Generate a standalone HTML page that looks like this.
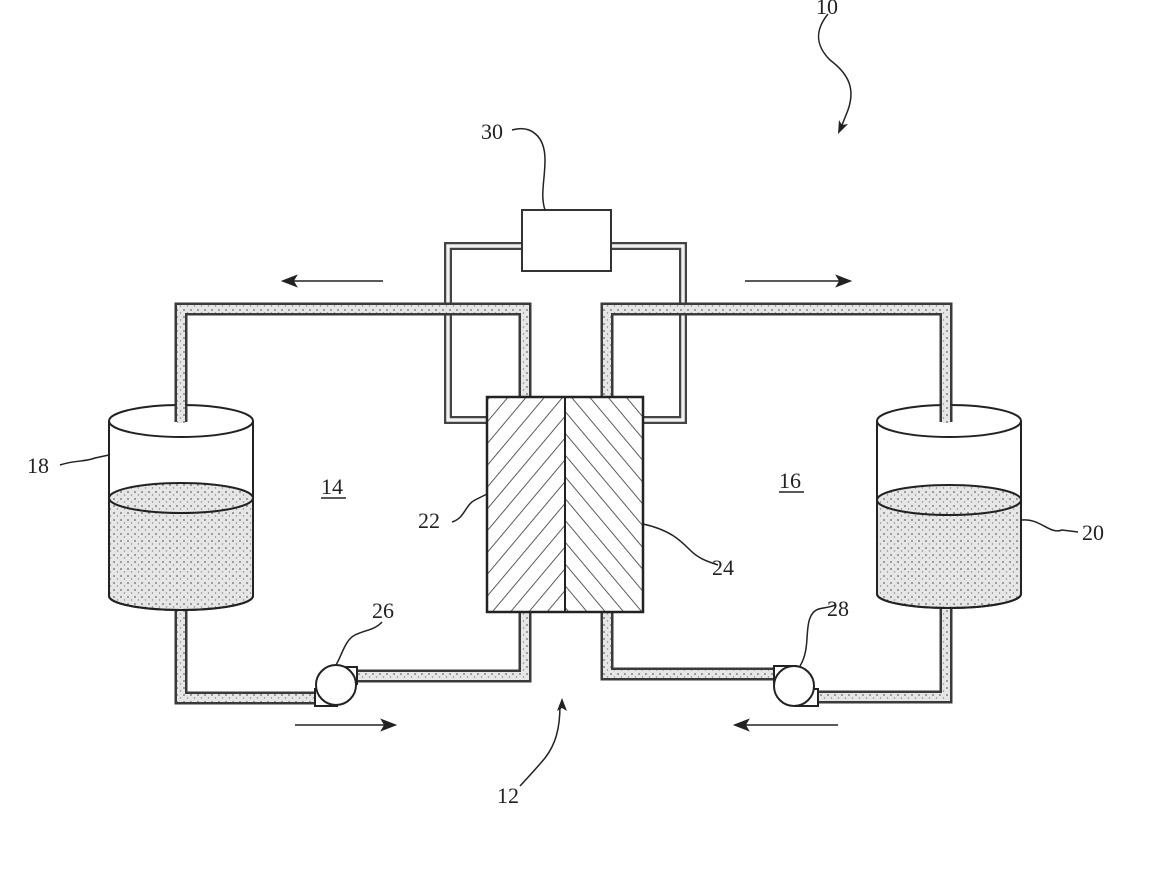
<!DOCTYPE html>
<html><head><style>
html,body{margin:0;padding:0;background:#fff;width:1154px;height:882px;overflow:hidden}
svg text{font-family:"Liberation Serif",serif;font-size:22px;fill:#222}
</style></head><body>
<svg width="1154" height="882" viewBox="0 0 1154 882" xmlns="http://www.w3.org/2000/svg">
<defs>
<pattern id="dots" width="7" height="7" patternUnits="userSpaceOnUse">
<rect width="7" height="7" fill="#e6e6e6"/>
<circle cx="2" cy="2" r="0.9" fill="#666"/><circle cx="5.5" cy="5" r="0.7" fill="#888"/>
</pattern>
<pattern id="hl" width="14" height="14" patternUnits="userSpaceOnUse" patternTransform="rotate(40)">
<rect width="14" height="14" fill="#fff"/><line x1="0" y1="0" x2="0" y2="14" stroke="#333" stroke-width="1.6"/>
</pattern>
<pattern id="hr" width="14" height="14" patternUnits="userSpaceOnUse" patternTransform="rotate(-40)">
<rect width="14" height="14" fill="#fff"/><line x1="0" y1="0" x2="0" y2="14" stroke="#333" stroke-width="1.6"/>
</pattern>
</defs>

<g fill="none" stroke-linejoin="miter" stroke-linecap="butt">
<!-- control loops -->
<g stroke="#444" stroke-width="8">
<polyline points="522,246 448,246 448,420 487,420"/>
<polyline points="611,246 683,246 683,420 643,420"/>
</g>
<g stroke="#f2f2f2" stroke-width="3.5">
<polyline points="522,246 448,246 448,420 487,420"/>
<polyline points="611,246 683,246 683,420 643,420"/>
</g>
<!-- main pipes -->
<g stroke="#3a3a3a" stroke-width="13">
<polyline points="181,422 181,309 525,309 525,397"/>
<polyline points="946,422 946,309 607,309 607,397"/>
<polyline points="525,612 525,676 356,676"/>
<polyline points="607,612 607,674 776,674"/>
<polyline points="181,608 181,698 316,698"/>
<polyline points="946,606 946,697 816,697"/>
</g>
<g stroke="url(#dots)" stroke-width="8">
<polyline points="181,422 181,309 525,309 525,397"/>
<polyline points="946,422 946,309 607,309 607,397"/>
<polyline points="525,612 525,676 356,676"/>
<polyline points="607,612 607,674 776,674"/>
<polyline points="181,608 181,698 316,698"/>
<polyline points="946,606 946,697 816,697"/>
</g>
</g>

<!-- box 30 -->
<rect x="522" y="210" width="89" height="61" fill="#fff" stroke="#333" stroke-width="2"/>

<!-- cell -->
<rect x="487" y="397" width="78" height="215" fill="url(#hl)"/>
<rect x="565" y="397" width="78" height="215" fill="url(#hr)"/>
<rect x="487" y="397" width="156" height="215" fill="none" stroke="#222" stroke-width="2.5"/>
<line x1="565" y1="397" x2="565" y2="612" stroke="#222" stroke-width="2"/>

<!-- tank 18 -->
<g stroke="#222" stroke-width="2">
<path d="M109,498 A72,15 0 0 1 253,498 L253,596 A72,14 0 0 1 109,596 Z" fill="url(#dots)"/>
<path d="M109,421 L109,596 A72,14 0 0 0 253,596 L253,421" fill="none"/>
<ellipse cx="181" cy="421" rx="72" ry="16" fill="none"/>
<path d="M109,498 A72,15 0 0 0 253,498" fill="none"/>
</g>
<!-- tank 20 -->
<g stroke="#222" stroke-width="2">
<path d="M877,500 A72,15 0 0 1 1021,500 L1021,594 A72,14 0 0 1 877,594 Z" fill="url(#dots)"/>
<path d="M877,421 L877,594 A72,14 0 0 0 1021,594 L1021,421" fill="none"/>
<ellipse cx="949" cy="421" rx="72" ry="16" fill="none"/>
<path d="M877,500 A72,15 0 0 0 1021,500" fill="none"/>
</g>
<!-- redraw pipe stubs into tanks -->
<g stroke="#3a3a3a" stroke-width="13"><line x1="181" y1="405" x2="181" y2="422"/><line x1="946" y1="405" x2="946" y2="422"/></g>
<g stroke="url(#dots)" stroke-width="8"><line x1="181" y1="404" x2="181" y2="423"/><line x1="946" y1="404" x2="946" y2="423"/></g>

<!-- pumps -->
<g stroke="#222" stroke-width="2" fill="#fff">
<rect x="315" y="689" width="22" height="17"/>
<rect x="335" y="667" width="22" height="17"/>
<circle cx="336" cy="685" r="20"/>
<rect x="796" y="689" width="22" height="17"/>
<rect x="774" y="666" width="22" height="17"/>
<circle cx="794" cy="686" r="20"/>
</g>

<!-- flow arrows -->
<g stroke="#222" stroke-width="1.6" fill="#222">
<line x1="383" y1="281" x2="290" y2="281"/><path d="M283,281 L296,276 L293,281 L296,286Z"/>
<line x1="745" y1="281" x2="843" y2="281"/><path d="M850,281 L837,276 L840,281 L837,286Z"/>
<line x1="295" y1="725" x2="388" y2="725"/><path d="M395,725 L382,720 L385,725 L382,730Z"/>
<line x1="838" y1="725" x2="742" y2="725"/><path d="M735,725 L748,720 L745,725 L748,730Z"/>
</g>

<!-- leader lines -->
<g stroke="#222" stroke-width="1.5" fill="none">
<path d="M828,14 C815,30 815,45 830,60 C850,75 855,90 848,110 L840,130"/>
<path d="M512,130 C530,125 545,135 545,160 C545,180 540,195 545,210"/>
<path d="M60,465 C75,460 85,462 95,458 L109,455"/>
<path d="M452,522 C465,518 465,505 475,500 L487,494"/>
<path d="M643,524 C670,530 680,540 690,550 C700,560 710,562 718,565"/>
<path d="M1022,520 C1040,518 1050,535 1062,530 L1078,532"/>
<path d="M382,622 C375,630 365,630 355,635 C345,640 342,655 336,665"/>
<path d="M835,605 C825,610 815,605 810,618 C805,630 810,650 800,666"/>
<path d="M520,786 C530,775 535,770 545,758 C555,745 560,730 560,705"/>
</g>
<path d="M562,698 L557,711 L562,708 L567,711Z" fill="#222"/>
<path d="M838,134 L839,120 L842,125 L848,124Z" fill="#222"/>

<!-- labels -->
<text x="816" y="14">10</text>
<text x="481" y="139">30</text>
<text x="27" y="473">18</text>
<text x="321" y="494">14</text>
<line x1="321" y1="498" x2="346" y2="498" stroke="#222" stroke-width="1.5"/>
<text x="418" y="528">22</text>
<text x="779" y="488">16</text>
<line x1="779" y1="492" x2="804" y2="492" stroke="#222" stroke-width="1.5"/>
<text x="712" y="575">24</text>
<text x="1082" y="540">20</text>
<text x="372" y="618">26</text>
<text x="827" y="616">28</text>
<text x="497" y="803">12</text>
</svg>
</body></html>
